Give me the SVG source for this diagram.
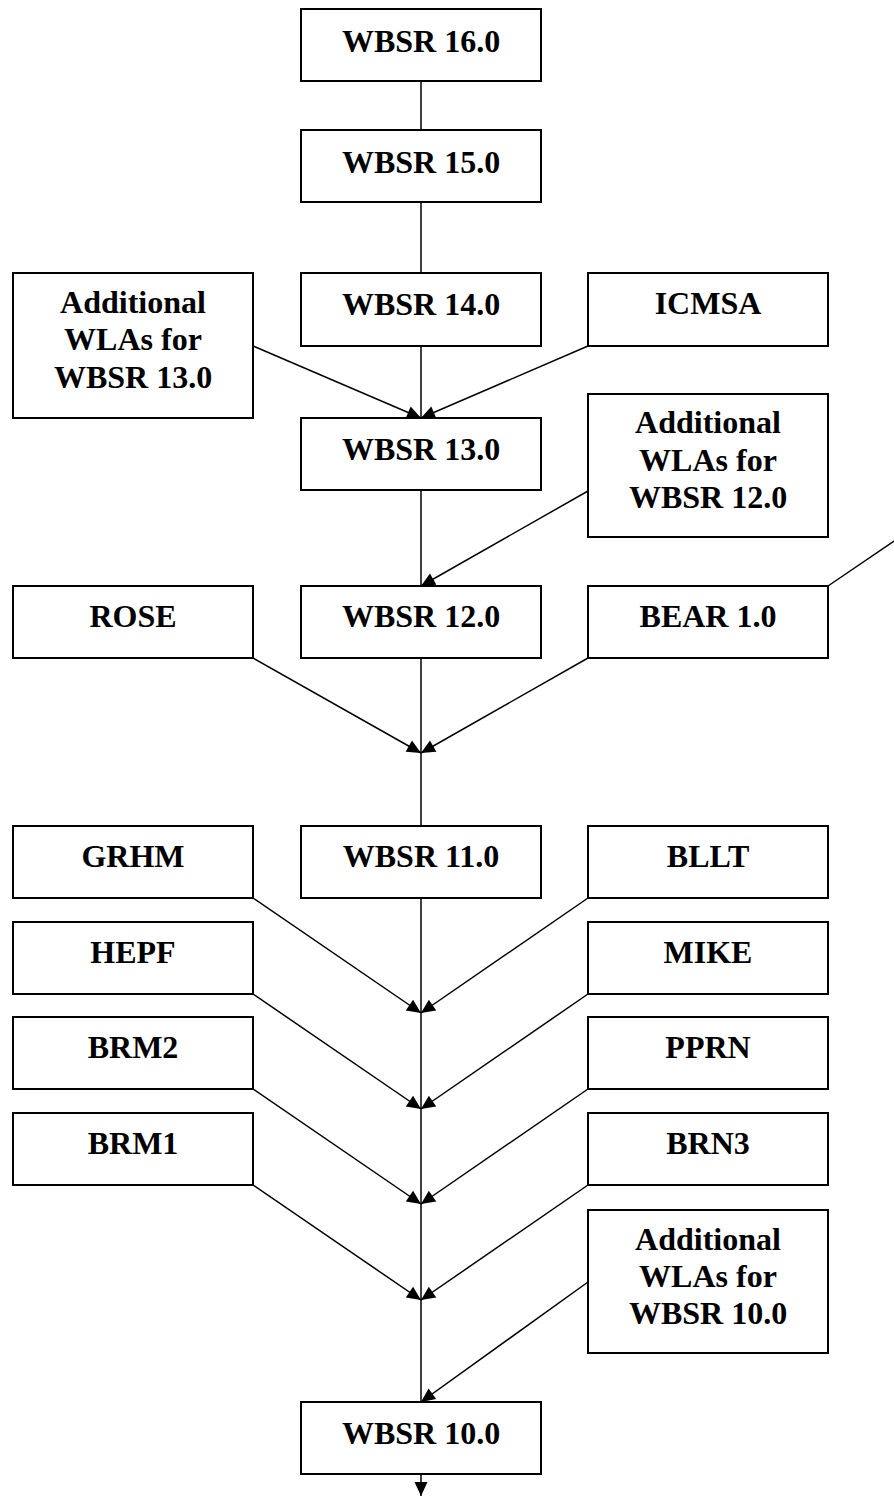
<svg xmlns="http://www.w3.org/2000/svg" width="894" height="1497" viewBox="0 0 894 1497">
<style>
.box{fill:#fff;stroke:#000;stroke-width:2}
.t{font-family:"Liberation Serif","Times New Roman",serif;font-weight:bold;font-size:32px;fill:#000;text-anchor:middle}
.c{stroke:#000;stroke-width:1.5;fill:none}
.a{marker-end:url(#arr)}
</style>
<defs>
<marker id="arr" markerUnits="userSpaceOnUse" markerWidth="16" markerHeight="14" refX="14" refY="7" orient="auto" overflow="visible">
<path d="M0,0.5 L14,7 L0,13.5 z" fill="#000"/>
</marker>
</defs>
<rect width="894" height="1497" fill="#fff"/>
<g id="connectors">
<line class="c" x1="421" y1="81" x2="421" y2="130"/>
<line class="c" x1="421" y1="202" x2="421" y2="273"/>
<line class="c" x1="421" y1="346" x2="421" y2="418"/>
<line class="c" x1="421" y1="490" x2="421" y2="586"/>
<line class="c" x1="421" y1="658" x2="421" y2="826"/>
<line class="c" x1="421" y1="898" x2="421" y2="1402"/>
<line class="c a" x1="421" y1="1474" x2="421" y2="1496"/>
<line class="c a" x1="253" y1="346" x2="421" y2="418"/>
<line class="c a" x1="588" y1="346" x2="421" y2="418"/>
<line class="c a" x1="588" y1="491" x2="421" y2="586"/>
<line class="c" x1="828" y1="586" x2="900" y2="537"/>
<line class="c a" x1="253" y1="658" x2="421" y2="753"/>
<line class="c a" x1="588" y1="658" x2="421" y2="753"/>
<line class="c a" x1="253" y1="898" x2="421" y2="1013"/>
<line class="c a" x1="588" y1="898" x2="421" y2="1013"/>
<line class="c a" x1="253" y1="994" x2="421" y2="1109"/>
<line class="c a" x1="588" y1="994" x2="421" y2="1109"/>
<line class="c a" x1="253" y1="1089" x2="421" y2="1204"/>
<line class="c a" x1="588" y1="1089" x2="421" y2="1204"/>
<line class="c a" x1="253" y1="1185" x2="421" y2="1300"/>
<line class="c a" x1="588" y1="1185" x2="421" y2="1300"/>
<line class="c a" x1="588" y1="1282" x2="421" y2="1402"/>
</g>
<g id="wbsr16"><rect class="box" x="301" y="9" width="240" height="72"/><text class="t" x="421" y="52">WBSR 16.0</text></g>
<g id="wbsr15"><rect class="box" x="301" y="130" width="240" height="72"/><text class="t" x="421" y="173">WBSR 15.0</text></g>
<g id="add13"><rect class="box" x="13" y="273" width="240" height="145"/><text class="t" x="133" y="313">Additional</text><text class="t" x="133" y="350">WLAs for</text><text class="t" x="133" y="388">WBSR 13.0</text></g>
<g id="wbsr14"><rect class="box" x="301" y="273" width="240" height="73"/><text class="t" x="421" y="315">WBSR 14.0</text></g>
<g id="icmsa"><rect class="box" x="588" y="273" width="240" height="73"/><text class="t" x="708" y="314">ICMSA</text></g>
<g id="wbsr13"><rect class="box" x="301" y="418" width="240" height="72"/><text class="t" x="421" y="460">WBSR 13.0</text></g>
<g id="add12"><rect class="box" x="588" y="394" width="240" height="143"/><text class="t" x="708" y="433">Additional</text><text class="t" x="708" y="471">WLAs for</text><text class="t" x="708" y="508">WBSR 12.0</text></g>
<g id="rose"><rect class="box" x="13" y="586" width="240" height="72"/><text class="t" x="133" y="627">ROSE</text></g>
<g id="wbsr12"><rect class="box" x="301" y="586" width="240" height="72"/><text class="t" x="421" y="627">WBSR 12.0</text></g>
<g id="bear"><rect class="box" x="588" y="586" width="240" height="72"/><text class="t" x="708" y="627">BEAR 1.0</text></g>
<g id="grhm"><rect class="box" x="13" y="826" width="240" height="72"/><text class="t" x="133" y="867">GRHM</text></g>
<g id="wbsr11"><rect class="box" x="301" y="826" width="240" height="72"/><text class="t" x="421" y="867">WBSR 11.0</text></g>
<g id="bllt"><rect class="box" x="588" y="826" width="240" height="72"/><text class="t" x="708" y="867">BLLT</text></g>
<g id="hepf"><rect class="box" x="13" y="922" width="240" height="72"/><text class="t" x="133" y="963">HEPF</text></g>
<g id="mike"><rect class="box" x="588" y="922" width="240" height="72"/><text class="t" x="708" y="963">MIKE</text></g>
<g id="brm2"><rect class="box" x="13" y="1017" width="240" height="72"/><text class="t" x="133" y="1058">BRM2</text></g>
<g id="pprn"><rect class="box" x="588" y="1017" width="240" height="72"/><text class="t" x="708" y="1058">PPRN</text></g>
<g id="brm1"><rect class="box" x="13" y="1113" width="240" height="72"/><text class="t" x="133" y="1154">BRM1</text></g>
<g id="brn3"><rect class="box" x="588" y="1113" width="240" height="72"/><text class="t" x="708" y="1154">BRN3</text></g>
<g id="add10"><rect class="box" x="588" y="1210" width="240" height="143"/><text class="t" x="708" y="1250">Additional</text><text class="t" x="708" y="1287">WLAs for</text><text class="t" x="708" y="1324">WBSR 10.0</text></g>
<g id="wbsr10"><rect class="box" x="301" y="1402" width="240" height="72"/><text class="t" x="421" y="1444">WBSR 10.0</text></g>
</svg>
